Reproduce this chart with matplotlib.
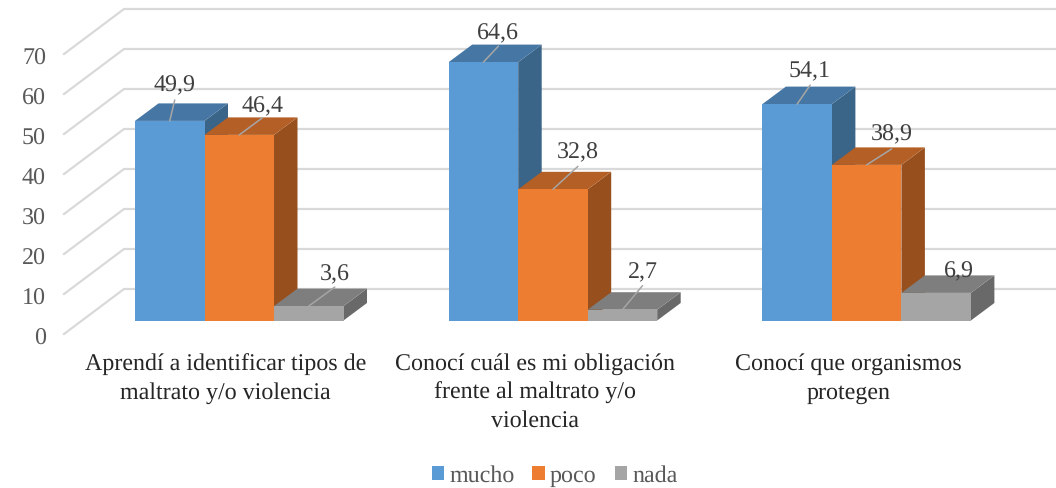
import matplotlib
matplotlib.use("Agg")
import matplotlib.pyplot as plt
from matplotlib.patches import Patch

categories = ["Aprendí a identificar tipos de\nmaltrato y/o violencia",
              "Conocí cuál es mi obligación\nfrente al maltrato y/o\nviolencia",
              "Conocí que organismos\nprotegen"]
series_names = ["mucho", "poco", "nada"]
mucho = [49.9, 64.6, 54.1]
poco = [46.4, 32.8, 38.9]
nada = [3.6, 2.7, 6.9]
y_ticks = [0, 10, 20, 30, 40, 50, 60, 70]

# front, top, side colours per series
colors = [("#5B9BD5", "#4676A3", "#3A6488"),
          ("#ED7D31", "#B45F25", "#974F1D"),
          ("#A5A5A5", "#7E7E7E", "#696969")]

# leader line end and label centre, pixels from the front top middle of each bar
leaders = [[(5, 21), (23, 17), (26, 19)],
           [(15, 16), (25, 23), (20, 24)],
           [(13, 19), (25, 16), None]]
label_off = [[(5, 35), (23, 28), (26, 32)],
             [(15, 29), (25, 37), (20, 37)],
             [(12, 33), (25, 30), (23, 21)]]

W, H = 1056, 488
GROUP_PX = 313.7
PX_PER_UNIT = 4.0
x_zero_px = 239.25
y_zero_px = 320.5

plt.rcParams["font.family"] = ["Liberation Serif", "DejaVu Serif"]
plt.rcParams["text.hinting"] = "no_hinting"
plt.rcParams["text.hinting_factor"] = 1
fig = plt.figure(figsize=(W / 100, H / 100), dpi=100)
ax = fig.add_axes([0, 0, 1, 1])
ax.set_xlim(-x_zero_px / GROUP_PX, (W - x_zero_px) / GROUP_PX)
ax.set_ylim(-(H - y_zero_px) / PX_PER_UNIT, y_zero_px / PX_PER_UNIT)
ax.axis("off")

bar_w = 69.5 / GROUP_PX
depth_x = 23.5 / GROUP_PX
depth_y = 17.5 / PX_PER_UNIT

# walls: gridline runs from the front edge to the back wall and on to the right
wall_front_x = (64 - x_zero_px) / GROUP_PX
wall_back_x = (124 - x_zero_px) / GROUP_PX
wall_end_x = (W - x_zero_px) / GROUP_PX
front_y = -13.5 / PX_PER_UNIT
back_y = 31.5 / PX_PER_UNIT
for t in y_ticks:
    ax.plot([wall_front_x, wall_back_x, wall_end_x],
            [t + front_y, t + back_y, t + back_y],
            color="#D9D9D9", lw=1.6, zorder=1, solid_joinstyle="miter")
    ax.text((46 - x_zero_px) / GROUP_PX, t + front_y - 0.5, str(t),
            ha="right", va="center_baseline", fontsize=17.5, color="#595959")

all_series = [mucho, poco, nada]
z = 2
for i in range(len(categories)):
    for s, vals in enumerate(all_series):
        v = vals[i]
        left = i + (s - 1.5) * bar_w
        right = left + bar_w
        front, top, side = colors[s]
        ax.fill([right, right + depth_x, right + depth_x, right],
                [0, depth_y, v + depth_y, v], color=side, lw=0, zorder=z)
        ax.fill([left, right, right + depth_x, left + depth_x],
                [v, v, v + depth_y, v + depth_y], color=top, lw=0, zorder=z)
        ax.bar(left, v, width=bar_w, align="edge", color=front, lw=0, zorder=z + 0.5)
        z += 1

for i in range(len(categories)):
    for s, vals in enumerate(all_series):
        v = vals[i]
        cx = i + (s - 1) * bar_w
        if leaders[i][s] is not None:
            ax.annotate("", xy=(cx, v), xytext=leaders[i][s], textcoords="offset pixels",
                        arrowprops=dict(arrowstyle="-", color="#A6A6A6", lw=1.1,
                                        shrinkA=0, shrinkB=0), zorder=50)
        ax.annotate(f"{v:.1f}".replace(".", ","), xy=(cx, v), xytext=label_off[i][s],
                    textcoords="offset pixels", ha="center", va="center",
                    fontsize=17.5, color="#404040", zorder=51)

cat_off = [-14, -18, -18]
for i, lab in enumerate(categories):
    ax.annotate(lab, xy=(i, 0), xytext=(cat_off[i], -33), textcoords="offset pixels",
                ha="center", va="top", fontsize=17.0, color="#262626", linespacing=1.38)

handles = [Patch(facecolor=c[0], lw=0) for c in colors]
ax.legend(handles, series_names, loc="center", bbox_to_anchor=(554.5 / W, 1 - 476 / H),
          ncol=3, frameon=False, fontsize=17.4, labelcolor="#595959",
          handlelength=0.52, handleheight=0.52, handletextpad=0.2, columnspacing=0.75,
          borderpad=0, borderaxespad=0)

fig.savefig("out.png", dpi=100)
